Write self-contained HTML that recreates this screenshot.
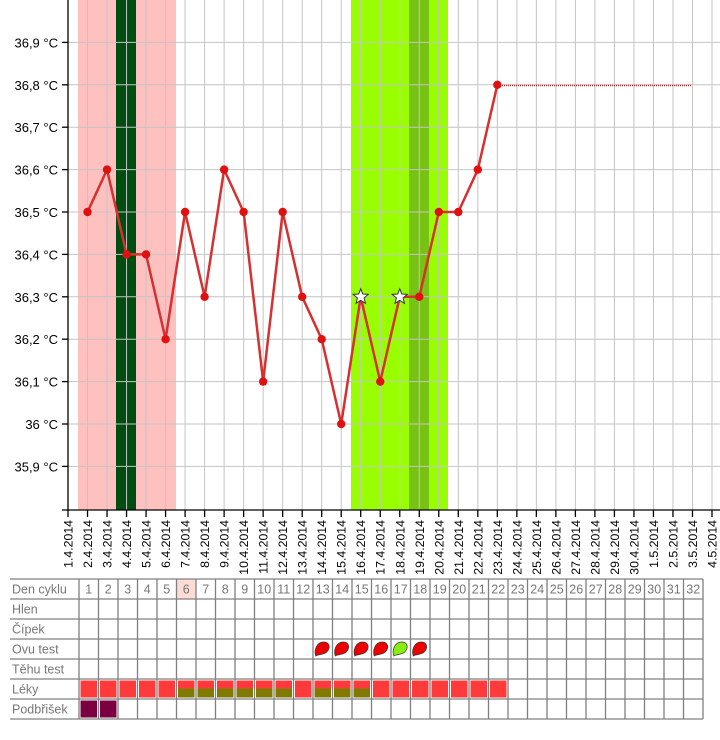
<!DOCTYPE html>
<html><head><meta charset="utf-8"><style>
body{margin:0;background:#fff;width:720px;height:740px;overflow:hidden;font-family:"Liberation Sans",sans-serif}
</style></head><body>
<svg width="720" height="740" xmlns="http://www.w3.org/2000/svg" style="position:absolute;left:0;top:0">
<g id="bands">
<rect x="78" y="0" width="98" height="510" fill="#ffc0c0"/>
<rect x="116" y="0" width="20" height="510" fill="#004d12"/>
<rect x="351" y="0" width="97" height="510" fill="#99ff00"/>
<rect x="409" y="0" width="20" height="510" fill="#77c213"/>
</g>
<g id="grid" stroke="#c4c4c4" stroke-width="1"></g>
<g id="axes" stroke="#000" stroke-width="1.3"></g>
<g id="ylab" font-size="13" fill="#000" text-anchor="end"></g>
<g id="xlab" font-size="12.3" fill="#000"></g>
<line x1="498" y1="85.5" x2="692" y2="85.5" stroke="#a33" stroke-width="1.5" stroke-dasharray="1,1"/>
<polyline id="series" fill="none" stroke="#d63030" stroke-width="2.5" stroke-linejoin="round"/>
<g id="dots" fill="#e01010"></g>
<g id="table" font-size="12.5" fill="#777"></g>
</svg>
<script>
const ns="http://www.w3.org/2000/svg";
function el(p,t,a,txt){const e=document.createElementNS(ns,t);for(const k in a)e.setAttribute(k,a[k]);if(txt!==undefined)e.textContent=txt;document.getElementById(p).appendChild(e);return e;}
const X=i=>68+i*19.515;
const Y=t=>424-(t-36)*424;
for(let i=1;i<=33;i++)el('grid','line',{x1:X(i),y1:0,x2:X(i),y2:510});
for(let k=1;k<=11;k++){const y=Y(35.8+k*0.1);el('grid','line',{x1:68,y1:y,x2:720,y2:y});}
el('axes','line',{x1:68,y1:0,x2:68,y2:510});
el('axes','line',{x1:62,y1:510,x2:720,y2:510});
const yl=["35,9","36","36,1","36,2","36,3","36,4","36,5","36,6","36,7","36,8","36,9"];
yl.forEach((s,k)=>{const y=Y(35.9+k*0.1);el('axes','line',{x1:62,y1:y,x2:68,y2:y});el('ylab','text',{x:58,y:y+5},s+" °C");});
const dates=[];for(let d=1;d<=30;d++)dates.push(d+".4.2014");for(let d=1;d<=4;d++)dates.push(d+".5.2014");
dates.forEach((s,i)=>{const x=X(i);el('axes','line',{x1:x,y1:510,x2:x,y2:517});el('xlab','text',{x:0,y:0,transform:`translate(${x+4.5},520) rotate(-90)`,'text-anchor':'end'},s);});
const data=[36.5,36.6,36.4,36.4,36.2,36.5,36.3,36.6,36.5,36.1,36.5,36.3,36.2,36.0,36.3,36.1,36.3,36.3,36.5,36.5,36.6,36.8];
const pts=data.map((t,j)=>[X(j+1),Y(t)]);
document.getElementById('series').setAttribute('points',pts.map(p=>p.join(',')).join(' '));
pts.forEach((p,j)=>{if(j===14||j===16){let s="";for(let k=0;k<10;k++){const r=k%2?3.5:8,a=-Math.PI/2+k*Math.PI/5;s+=(p[0]+r*Math.cos(a))+","+(p[1]+r*Math.sin(a))+" ";}el('dots','polygon',{points:s,fill:'#fff',stroke:'#333','stroke-width':1});}else el('dots','circle',{cx:p[0],cy:p[1],r:4.2});});
const T=579,RH=20,L=10,C0=79,CW=19.5,N=32,R=C0+N*CW;
const rows=["Den cyklu","Hlen","Čípek","Ovu test","Těhu test","Léky","Podbřišek"];
el('table','rect',{x:C0+5*CW,y:T,width:CW,height:RH,fill:'#fddcd6'});
for(let d=0;d<22;d++){const x=C0+d*CW+1.5,y=T+5*RH+1.5;el('table','rect',{x:x,y:y,width:CW-3,height:RH-3,fill:'#ff3a3a'});
 if((d>=5&&d<=10)||(d>=12&&d<=14))el('table','rect',{x:x,y:y+8,width:CW-3,height:RH-11,fill:'#807a00'});}
for(let d=0;d<2;d++)el('table','rect',{x:C0+d*CW+1.5,y:T+6*RH+1.5,width:CW-3,height:RH-3,fill:'#7a0040'});
for(let d=12;d<=17;d++){const cx=C0+d*CW+CW/2,cy=T+3*RH+10;el('table','path',{d:`M${cx-7},${cy+7} C${cx-9},${cy+1} ${cx-6},${cy-7} ${cx+1},${cy-7} C${cx+7},${cy-7} ${cx+8},${cy-1} ${cx+4},${cy+3} C${cx+1},${cy+6} ${cx-4},${cy+5} ${cx-7},${cy+7}Z`,fill:d===16?'#88ee11':'#ee0000',stroke:'#333','stroke-width':0.7});}
for(let r=0;r<=7;r++)el('table','line',{x1:L,y1:T+r*RH,x2:R,y2:T+r*RH,stroke:'#808080','stroke-width':1.3});
for(let c=0;c<=N;c++)el('table','line',{x1:C0+c*CW,y1:T,x2:C0+c*CW,y2:T+7*RH,stroke:'#808080','stroke-width':1.3});
rows.forEach((s,r)=>el('table','text',{x:L+2,y:T+r*RH+14.5},s));
for(let d=1;d<=N;d++)el('table','text',{x:C0+(d-0.5)*CW,y:T+14.5,'text-anchor':'middle'},String(d));
</script>
</body></html>
